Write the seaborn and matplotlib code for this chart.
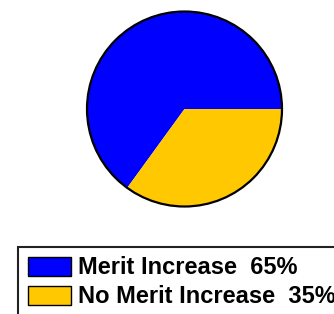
import matplotlib
matplotlib.use("Agg")
import matplotlib.pyplot as plt
from matplotlib.patches import Circle, Rectangle
import seaborn as sns

categories = ["Merit Increase", "No Merit Increase"]
shares = [65, 35]
colors = ["#0000FF", "#FFC800"]

sns.set_style("white")
plt.rcParams['font.family'] = ['Liberation Sans', 'DejaVu Sans']

W, H = 334, 314
fig = plt.figure(figsize=(W / 100, H / 100), dpi=100)

# pie sits in a square box, centre (184.5, 109) px from top, radius 97.5 px
cx, cy, r = 184.5, 109, 97.5
pad = 1.04
ax = fig.add_axes([(cx - r * pad) / W, (H - cy - r * pad) / H, 2 * r * pad / W, 2 * r * pad / H])
wedges, _ = ax.pie(shares, colors=colors, startangle=0, counterclock=True,
                   wedgeprops=dict(linewidth=0))
ax.add_patch(Circle((0, 0), 1, fill=False, ec="black", lw=1.6))
ax.set_xlim(-pad, pad)
ax.set_ylim(-pad, pad)
ax.set_aspect("auto")
ax.axis("off")

handles = [Rectangle((0, 0), 1, 1, fc=c, ec="black", lw=1) for c in colors]
labels = [f"{c}  {v}%" for c, v in zip(categories, shares)]
fs = 17
fpx = fs / 72 * 100
leg = fig.legend(handles, labels, loc="upper left", bbox_to_anchor=(17.5 / W, 1 - 246.5 / H),
                 borderaxespad=0, frameon=True, fancybox=False, framealpha=1,
                 edgecolor="#222222", borderpad=10 / fpx, handlelength=43 / fpx,
                 handleheight=20 / fpx, handletextpad=8 / fpx, labelspacing=0.25,
                 labelcolor="black", prop=dict(size=fs, weight="bold"))
leg.get_frame().set_linewidth(1.5)

fig.savefig("out.png", dpi=100)
